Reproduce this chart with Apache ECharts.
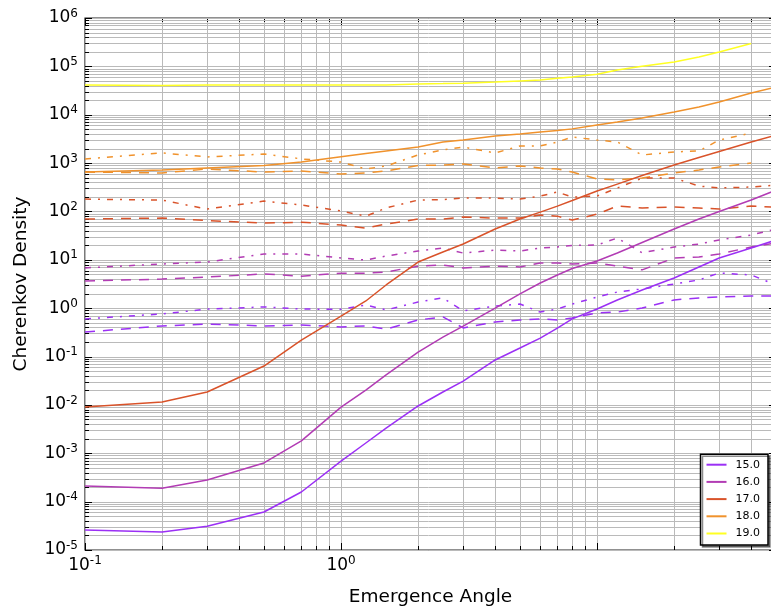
<!DOCTYPE html>
<html><head><meta charset="utf-8">
<script src="https://cdn.jsdelivr.net/npm/echarts@6/dist/echarts.min.js"></script>
<style>html,body{margin:0;padding:0;background:#fff}#c{width:771px;height:609px}</style>
</head><body><div id="c"></div>
<script>
// Emergence angles (x samples)
const angles = [0.1, 0.2, 0.3, 0.5, 0.7, 1.0, 1.25, 1.5, 2, 2.5, 3, 4, 5, 6, 7, 8, 10, 12, 15, 20, 25, 30, 40, 50];

// Energy 15.0
const e15_solid   = [2.6e-5, 2.36e-5, 3.1e-5, 6.1e-5, 1.58e-4, 6.9e-4, 1.63e-3, 3.3e-3, 9.5e-3, 0.0185, 0.031, 0.085, 0.150, 0.241, 0.388, 0.60, 0.96, 1.48, 2.38, 4.2, 7.1, 10.9, 17.5, 25.7];
const e15_dashed  = [0.32, 0.43, 0.47, 0.43, 0.45, 0.41, 0.43, 0.37, 0.57, 0.66, 0.39, 0.52, 0.57, 0.60, 0.57, 0.63, 0.80, 0.83, 1.01, 1.48, 1.63, 1.70, 1.79, 1.79];
const e15_dashdot = [0.60, 0.76, 0.96, 1.06, 0.96, 0.95, 1.16, 0.92, 1.34, 1.63, 0.88, 1.11, 1.22, 0.83, 0.96, 1.22, 1.70, 2.16, 2.50, 3.16, 3.83, 5.34, 4.86, 3.02];
// Energy 16.0
const e16_solid   = [2.1e-4, 1.9e-4, 2.8e-4, 6.3e-4, 1.8e-3, 9.0e-3, 0.0203, 0.0416, 0.124, 0.253, 0.427, 1.0, 1.97, 3.32, 4.86, 6.63, 9.47, 13.8, 22.8, 43.3, 69.7, 99.5, 172, 277];
const e16_dashed  = [3.64, 4.0, 4.4, 5.1, 4.6, 5.3, 5.3, 5.6, 7.4, 7.8, 6.8, 7.4, 7.1, 8.6, 8.6, 8.2, 8.6, 7.4, 6.2, 10.9, 11.4, 13.2, 18.4, 22.3];
const e16_dashdot = [6.8, 8.2, 9.0, 13.2, 13.2, 10.9, 9.9, 12.0, 15.2, 17.5, 13.8, 15.9, 15.2, 17.5, 18.4, 19.8, 20.2, 28.2, 14.0, 18.4, 21.2, 25.7, 32.6, 43.3];
// Energy 17.0
const e17_solid   = [0.0091, 0.0115, 0.0185, 0.0636, 0.219, 0.687, 1.41, 3.02, 9.0, 14.5, 21.2, 43.3, 69.7, 97, 129, 168, 264, 368, 553, 910, 1310, 1740, 2730, 3810];
const e17_dashed  = [69.6, 73, 65, 57.5, 60, 52.3, 45.3, 54.9, 69.6, 69.6, 76.6, 73, 73, 84, 80, 66.4, 88, 129, 118, 123, 118, 112, 129, 123];
const e17_dashdot = [180, 172, 112, 164, 136, 102, 80, 118, 172, 176, 189, 189, 180, 208, 252, 198, 208, 305, 490, 490, 335, 305, 320, 352];
// Energy 18.0
const e18_solid   = [655, 720, 790, 890, 1050, 1360, 1580, 1780, 2150, 2730, 3000, 3630, 4000, 4400, 4700, 5100, 6130, 7100, 8600, 11400, 14400, 18300, 28100, 37400];
const e18_dashed  = [654, 624, 755, 654, 686, 595, 624, 686, 892, 913, 958, 792, 871, 792, 755, 654, 469, 447, 492, 624, 720, 830, 1005, null];
const e18_dashdot = [1220, 1620, 1340, 1540, 1220, 1050, 755, 871, 1470, 1870, 2150, 1620, 2260, 2260, 2730, 3460, 3000, 2730, 1470, 1700, 1780, 3000, 4190, null];
// Energy 19.0
const e19_solid   = [4.1e4, 4.0e4, 4.1e4, 4.1e4, 4.1e4, 4.1e4, 4.1e4, 4.1e4, 4.3e4, 4.4e4, 4.5e4, 4.75e4, 5.0e4, 5.2e4, 5.7e4, 6.0e4, 6.9e4, 8.4e4, 1.0e5, 1.23e5, 1.56e5, 1.98e5, 2.97e5, null];

const energies = ['15.0', '16.0', '17.0', '18.0', '19.0'];
const colors = ['#9b30f5', '#b23cb4', '#d9532a', '#f0922c', '#ffff22'];
const xLabelValues = [0.1, 1, 10];
const yLabelValues = [1e-5, 1e-4, 1e-3, 1e-2, 1e-1, 1, 10, 100, 1e3, 1e4, 1e5, 1e6];
const xTitle = 'Emergence Angle';
const yTitle = 'Cherenkov Density';

const X0 = 0.1, X1 = 50, Y0 = 1e-5, Y1 = 1e6;
const FONT = 'DejaVu Sans';
const DASH = [10, 8];
const DASHDOT = [6, 7, 2, 7];

function pairs(ys) {
  const out = [];
  angles.forEach((x, i) => { if (ys[i] != null) out.push([x, ys[i]]); });
  return out;
}
function powLabel(v) {
  const l = Math.log10(v);
  const e = Math.round(l);
  if (Math.abs(l - e) > 1e-6) return '';
  return '{b|10}{s|' + e + '}';
}
const rich = {
  b: { fontSize: 17, fontFamily: FONT, color: '#000', lineHeight: 17 },
  s: { fontSize: 12, fontFamily: FONT, color: '#000', lineHeight: 12, padding: [0, 0, 9, 0] }
};

// grid/tick positions for log axes
const gridX = [], gridY = [];
for (let d = -1; d <= 1; d++) for (let m = 1; m <= 9; m++) {
  const v = m * Math.pow(10, d);
  if (v >= X0 * 0.999 && v <= X1 * 1.001) gridX.push([v, m === 1 ? 1 : 0, 1]);
}
for (let d = -5; d <= 6; d++) for (let m = 1; m <= 9; m++) {
  const v = m * Math.pow(10, d);
  if (v >= Y0 * 0.999 && v <= Y1 * 1.001) gridY.push([1, m === 1 ? 1 : 0, v]);
}

function renderV(params, api) {
  const v = api.value(0), major = api.value(1);
  const pt = api.coord([v, Y1]), pb = api.coord([v, Y0]);
  const x = Math.round(pt[0]) + 0.5;
  const tl = major ? 7 : 4;
  return { type: 'group', children: [
    { type: 'line', shape: { x1: x, y1: pt[1], x2: x, y2: pb[1] }, style: { stroke: '#bababa', lineWidth: 1 } },
    { type: 'line', shape: { x1: x, y1: pb[1], x2: x, y2: pb[1] - tl }, style: { stroke: '#000', lineWidth: 1 } },
    { type: 'line', shape: { x1: x, y1: pt[1], x2: x, y2: pt[1] + tl }, style: { stroke: '#000', lineWidth: 1 } }
  ]};
}
function renderH(params, api) {
  const v = api.value(2), major = api.value(1);
  const pl = api.coord([X0, v]), pr = api.coord([X1, v]);
  const y = Math.round(pl[1]) + 0.5;
  const tl = major ? 7 : 4;
  return { type: 'group', children: [
    { type: 'line', shape: { x1: pl[0], y1: y, x2: pr[0], y2: y }, style: { stroke: '#bababa', lineWidth: 1 } },
    { type: 'line', shape: { x1: pl[0], y1: y, x2: pl[0] + tl, y2: y }, style: { stroke: '#000', lineWidth: 1 } },
    { type: 'line', shape: { x1: pr[0], y1: y, x2: pr[0] - tl, y2: y }, style: { stroke: '#000', lineWidth: 1 } }
  ]};
}

const lineSets = [
  [e15_solid, e15_dashed, e15_dashdot],
  [e16_solid, e16_dashed, e16_dashdot],
  [e17_solid, e17_dashed, e17_dashdot],
  [e18_solid, e18_dashed, e18_dashdot],
  [e19_solid, null, null]
];

const series = [
  { type: 'custom', name: 'gridV', renderItem: renderV, data: gridX, encode: { x: 0, y: 2 }, silent: true, z: 1, clip: false },
  { type: 'custom', name: 'gridH', renderItem: renderH, data: gridY, encode: { x: 0, y: 2 }, silent: true, z: 1, clip: false }
];
const styles = ['solid', DASH, DASHDOT];
const suffix = ['', ' dashed', ' dashdot'];
// draw dashed and dash-dot first, solid on top
[1, 2, 0].forEach(k => {
  lineSets.forEach((set, i) => {
    if (!set[k]) return;
    series.push({
      type: 'line', name: energies[i] + suffix[k], data: pairs(set[k]),
      showSymbol: false, symbol: 'none', z: 3, clip: true,
      lineStyle: { color: colors[i], width: 1.5, type: styles[k] },
      itemStyle: { color: colors[i] }
    });
  });
});

const chart = echarts.init(document.getElementById('c'), null, { renderer: 'canvas' });
chart.setOption({
  animation: false,
  backgroundColor: '#fff',
  textStyle: { fontFamily: FONT },
  grid: { left: 85, top: 18, width: 691, height: 532, show: true, borderColor: '#222', borderWidth: 1.2, backgroundColor: 'transparent', containLabel: false, outerBoundsMode: 'none' },
  legend: {
    data: energies, orient: 'vertical', right: 3, bottom: 64,
    icon: 'rect', itemWidth: 20, itemHeight: 2, itemGap: 4.2,
    textStyle: { fontSize: 11, color: '#000', fontFamily: FONT, lineHeight: 13, padding: [0, 0, 0, 4] },
    backgroundColor: '#fff', borderColor: '#000', borderWidth: 1.5, borderRadius: 0,
    padding: [4, 8, 5, 6],
    shadowColor: 'rgba(0,0,0,0.45)', shadowOffsetX: 2, shadowOffsetY: 2, shadowBlur: 0
  },
  xAxis: {
    type: 'log', logBase: 10, min: X0, max: X1,
    axisLine: { show: false }, axisTick: { show: false }, splitLine: { show: false }, minorTick: { show: false },
    axisLabel: { customValues: xLabelValues, formatter: powLabel, rich: rich, margin: 7, showMaxLabel: false },
    name: xTitle, nameLocation: 'middle', nameGap: 38,
    nameTextStyle: { fontSize: 18.5, fontFamily: FONT, color: '#000' }
  },
  yAxis: {
    type: 'log', logBase: 10, min: Y0, max: Y1,
    axisLine: { show: false }, axisTick: { show: false }, splitLine: { show: false }, minorTick: { show: false },
    axisLabel: { customValues: yLabelValues, formatter: powLabel, rich: rich, margin: 7 },
    name: yTitle, nameLocation: 'middle', nameGap: 54,
    nameTextStyle: { fontSize: 18.5, fontFamily: FONT, color: '#000' }
  },
  series: series
});
</script>
</body></html>
